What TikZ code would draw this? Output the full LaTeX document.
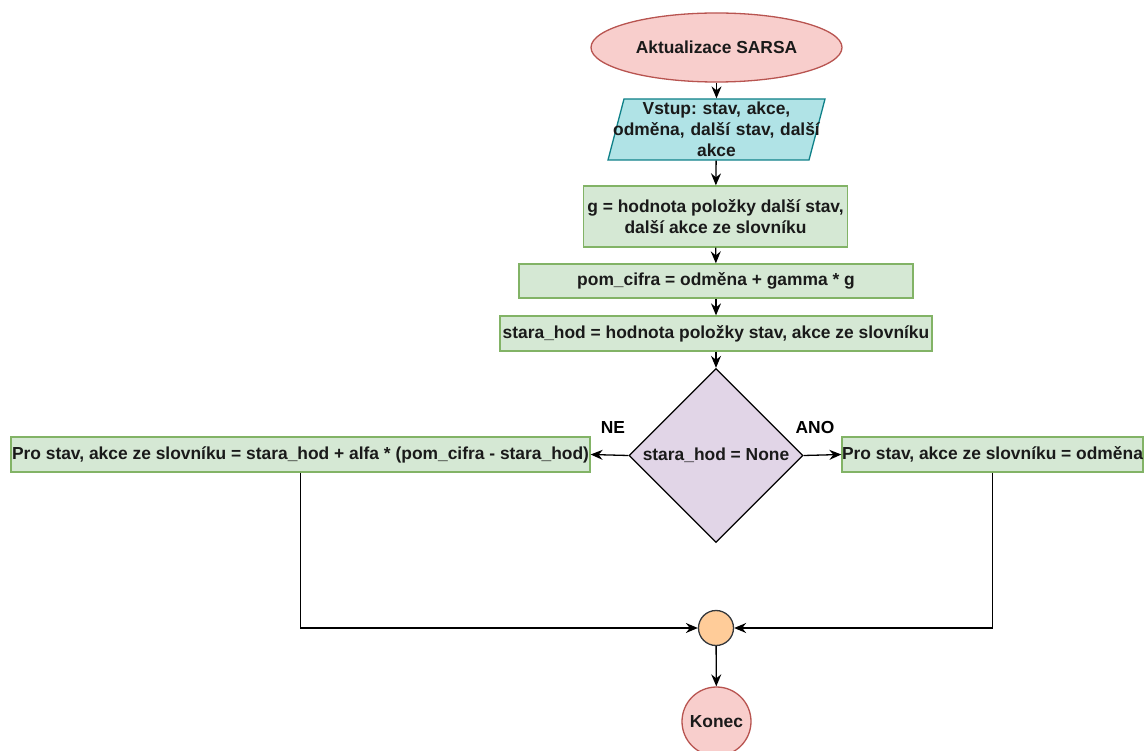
\documentclass[tikz,border=0pt]{standalone}
\usepackage{fontspec}
\setmainfont{Liberation Sans}
\usetikzlibrary{shapes.geometric,arrows.meta}
\definecolor{redfill}{HTML}{F8CECC}
\definecolor{redline}{HTML}{B85450}
\definecolor{cyanfill}{HTML}{B0E3E6}
\definecolor{cyanline}{HTML}{0E8088}
\definecolor{greenfill}{HTML}{D5E8D4}
\definecolor{greenline}{HTML}{82B366}
\definecolor{purplefill}{HTML}{E1D5E7}
\definecolor{orangefill}{HTML}{FFCC99}
\definecolor{darkline}{HTML}{36393D}
\definecolor{txt}{HTML}{1A1A1A}
\tikzset{
  base/.style={font=\bfseries\fontsize{17.4}{21}\selectfont\frenchspacing, text=txt, inner sep=0pt, line width=1.3pt},
  terminal/.style={base, ellipse, draw=redline, fill=redfill},
  procbox/.style={base, rectangle, draw=greenline, fill=greenfill},
  decision/.style={base, diamond, draw=black, fill=purplefill, minimum width=174pt, minimum height=174pt},
  joint/.style={base, circle, draw=darkline, fill=orangefill, minimum size=35pt},
  endcircle/.style={base, circle, draw=redline, fill=redfill, minimum size=69pt},
  flow/.style={line width=1.3pt, draw=black, -{Stealth[length=12pt,width=10pt,inset=4pt]}},
  lbl/.style={base, text=black}
}
\begin{document}
\frenchspacing
\begin{tikzpicture}[x=1pt,y=-1pt]
\useasboundingbox (0,0) rectangle (1144,751);

% start
\node[terminal, minimum width=251pt, minimum height=69pt] (start) at (716.5,47.5) {Aktualizace SARSA};

% input parallelogram
\draw[line width=1.3pt, draw=cyanline, fill=cyanfill] (624,99) -- (825,99) -- (809,160) -- (608,160) -- cycle;
\node[base, align=center, minimum height=61pt, text width=220pt] (inp) at (716.5,129.5)
  {Vstup: stav, akce,\\odměna, další stav, další\\akce};

% process steps
\node[procbox, minimum width=264pt, minimum height=61pt, align=center] (g) at (715.5,216.5)
  {g = hodnota položky další stav,\\další akce ze slovníku};
\node[procbox, minimum width=394pt, minimum height=34pt] (pom) at (716,281)
  {pom\_cifra = odměna + gamma * g};
\node[procbox, minimum width=432pt, minimum height=35pt] (stara) at (716,333.5)
  {stara\_hod = hodnota položky stav, akce ze slovníku};

% decision
\node[decision] (dec) at (716,455.5) {stara\_hod = None};

% branches
\node[procbox, minimum width=579pt, minimum height=35pt] (left) at (300.5,454.5)
  {Pro stav, akce ze slovníku = stara\_hod + alfa * (pom\_cifra - stara\_hod)};
\node[procbox, minimum width=301pt, minimum height=35pt] (right) at (992.5,454.5)
  {Pro stav, akce ze slovníku = odměna};

\node[lbl] (ne) at (613,428) {NE};
\node[lbl] (ano) at (815,428) {ANO};

% merge and end
\node[joint] (merge) at (716,628) {};
\node[endcircle] (end) at (716.5,721.5) {Konec};

% connectors
\draw[flow] (start) -- (inp);
\draw[flow] (inp) -- (g);
\draw[flow] (g) -- (pom);
\draw[flow] (pom) -- (stara);
\draw[flow] (stara) -- (dec);
\draw[flow] (dec.west) -- (left.east);
\draw[flow] (dec.east) -- (right.west);
\draw[flow] (left.south) |- (merge.west);
\draw[flow] (right.south) |- (merge.east);
\draw[flow] (merge) -- (end);
\end{tikzpicture}
\end{document}
